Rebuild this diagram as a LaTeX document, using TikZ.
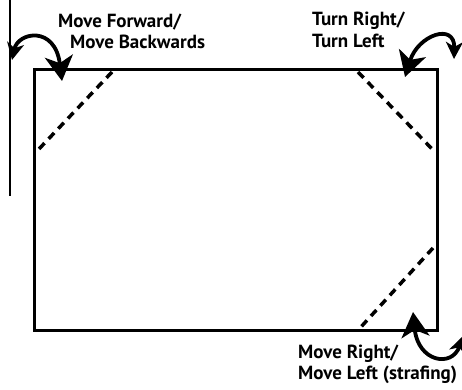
\documentclass[tikz,border=0pt]{standalone}
\usepackage{fontspec}
\setmainfont{PT Sans}
\usetikzlibrary{arrows.meta}
\tikzset{
  bighead/.tip={Stealth[length=25pt,width=28pt,inset=7pt]},
  smallhead/.tip={Stealth[length=17pt,width=17pt,inset=5pt]}}
\begin{document}
\begin{tikzpicture}[x=1pt,y=-1pt,
  lbl/.style={font=\bfseries\fontsize{19}{21}\selectfont,inner sep=0pt,anchor=base west},
  dashdiag/.style={line width=3.5pt,dash pattern=on 8pt off 6pt},
  turn/.style={line width=3.8pt}]
\useasboundingbox (0,0) rectangle (462,389);
\node[draw,line width=3pt,minimum width=403pt,minimum height=261pt,inner sep=0pt] (screen) at (235.5,199.5) {};
\draw[line width=1.2pt] (10,0) coordinate (t0) -- (10,196) coordinate (t1);
% dashed diagonals
\draw[dashdiag] (112,72) coordinate (d1) -- (38,150) coordinate (d2);
\draw[dashdiag] (358,72) coordinate (d3) -- (433,150) coordinate (d4);
\draw[dashdiag] (433,248) coordinate (d5) -- (360,328) coordinate (d6);
% labels
\node[lbl] (fwd1) at (58,27) {Move Forward/};
\node[lbl] (fwd2) at (70,48) {Move Backwards};
\node[lbl] (rt1) at (312,25) {Turn Right/};
\node[lbl] (rt2) at (312,47) {Turn Left};
\node[lbl] (st1) at (298,358) {Move Right/};
\node[lbl] (st2) at (298,379) {Move Left (strafing)};
% curved arrows
\coordinate (a1) at (12,60);
\coordinate (a2) at (62,81);
\draw[turn,{smallhead}-{bighead}] (a1) .. controls (18,32) and (55,25) .. (a2);
\coordinate (b1) at (405,77);
\coordinate (b2) at (454,59);
\draw[turn,{bighead}-{smallhead}] (b1) .. controls (418,35) and (455,22) .. (b2);
\coordinate (c1) at (413,312);
\coordinate (c2) at (463,336);
\draw[turn,{bighead}-{smallhead}] (c1) .. controls (418,362) and (452,368) .. (c2);
\end{tikzpicture}
\end{document}
